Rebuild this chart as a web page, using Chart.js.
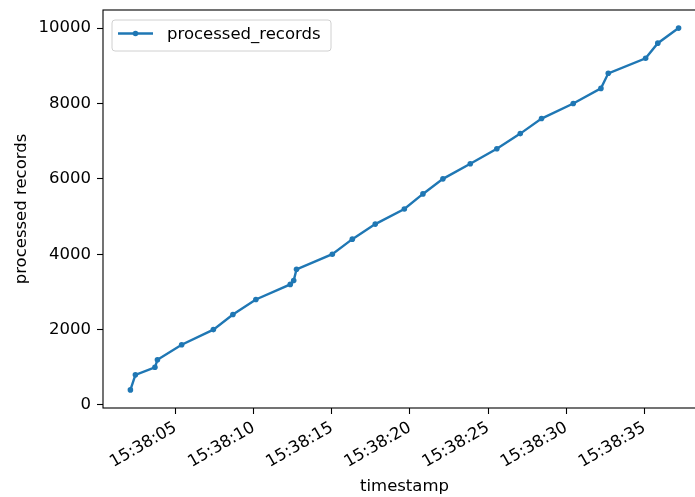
<!DOCTYPE html>
<html>
<head>
<meta charset="utf-8">
<script src="https://cdn.jsdelivr.net/npm/chart.js@4.4.0/dist/chart.umd.min.js"></script>
<style>
  html, body { margin: 0; padding: 0; background: #fff; overflow: hidden; }
  #wrap { width: 695px; height: 497px; overflow: hidden; }
</style>
</head>
<body>
<div id="wrap"><canvas id="grafica" width="712" height="497"></canvas></div>
<script>
// datos
const seriesName = "processed_records";
const timestamps = ["15:38:02.11", "15:38:02.43", "15:38:03.68", "15:38:03.84", "15:38:05.39",
  "15:38:07.42", "15:38:08.67", "15:38:10.14", "15:38:12.34", "15:38:12.56", "15:38:12.74",
  "15:38:15.03", "15:38:16.31", "15:38:17.78", "15:38:19.64", "15:38:20.83", "15:38:22.11",
  "15:38:23.86", "15:38:25.56", "15:38:27.06", "15:38:28.42", "15:38:30.45", "15:38:32.22",
  "15:38:32.69", "15:38:35.08", "15:38:35.86", "15:38:37.19"];
const processedRecords = [400, 800, 1000, 1200, 1600, 2000, 2400, 2800, 3200, 3300, 3600,
  4000, 4400, 4800, 5200, 5600, 6000, 6400, 6800, 7200, 7600, 8000, 8400, 8800, 9200, 9600, 10000];
const xTicks = [5, 10, 15, 20, 25, 30, 35]; // segundos despues de 15:38:00
const yTicks = [0, 2000, 4000, 6000, 8000, 10000];

// pasar "HH:MM:SS.ss" a segundos desde 15:38:00
const segundos = ts => {
  const p = ts.split(":");
  return (parseInt(p[0]) * 3600 + parseInt(p[1]) * 60 + parseFloat(p[2])) - (15 * 3600 + 38 * 60);
};
const xs = timestamps.map(segundos);
const puntos = xs.map((x, i) => ({ x: x, y: processedRecords[i] }));

// margenes del 5% como matplotlib
const xMin = Math.min(...xs), xMax = Math.max(...xs);
const yMin = Math.min(...processedRecords), yMax = Math.max(...processedRecords);
const mx = (xMax - xMin) * 0.05, my = (yMax - yMin) * 0.05;

const FUENTE = "'DejaVu Sans', sans-serif";
const AZUL = "#1f77b4";

// marco de los ejes y leyenda dentro del area
const marcoYLeyenda = {
  id: "marcoYLeyenda",
  afterDraw(chart) {
    const ctx = chart.ctx;
    const a = chart.chartArea;
    ctx.save();
    ctx.strokeStyle = "#000";
    ctx.lineWidth = 1.1;
    ctx.strokeRect(a.left, a.top, a.right - a.left, a.bottom - a.top);

    // leyenda
    const lx = a.left + 9, ly = a.top + 10, lw = 219, lh = 31;
    ctx.beginPath();
    ctx.roundRect(lx, ly, lw, lh, 3);
    ctx.fillStyle = "rgba(255,255,255,0.8)";
    ctx.fill();
    ctx.strokeStyle = "#d0d0d0";
    ctx.lineWidth = 1;
    ctx.stroke();

    const cy = ly + 13.5;
    ctx.strokeStyle = AZUL;
    ctx.lineWidth = 2.4;
    ctx.beginPath();
    ctx.moveTo(lx + 6, cy);
    ctx.lineTo(lx + 41, cy);
    ctx.stroke();
    ctx.fillStyle = AZUL;
    ctx.beginPath();
    ctx.arc(lx + 23.5, cy, 2.8, 0, Math.PI * 2);
    ctx.fill();

    ctx.fillStyle = "#000";
    ctx.font = "16.5px " + FUENTE;
    ctx.textBaseline = "middle";
    ctx.textAlign = "left";
    ctx.fillText(seriesName, lx + 55, cy + 1);
    ctx.restore();
  }
};

new Chart(document.querySelector("#grafica"), {
  type: "line",
  data: {
    datasets: [{
      label: seriesName,
      data: puntos,
      borderColor: AZUL,
      backgroundColor: AZUL,
      borderWidth: 2.4,
      pointRadius: 2.8,
      pointBorderWidth: 0,
      pointHoverRadius: 2.8,
      tension: 0
    }]
  },
  options: {
    responsive: false,
    animation: false,
    devicePixelRatio: 1,
    layout: { padding: { top: 10, right: 6, left: 0, bottom: 0 } },
    plugins: {
      legend: { display: false },
      tooltip: { enabled: false }
    },
    scales: {
      x: {
        type: "linear",
        min: xMin - mx,
        max: xMax + mx,
        afterBuildTicks: s => { s.ticks = xTicks.map(v => ({ value: v })); },
        afterFit: s => { s.height = 89; s.paddingLeft = 0; s.paddingRight = 0; },
        border: { display: false },
        grid: { drawOnChartArea: false, drawTicks: true, tickLength: 6, color: "#000", tickWidth: 1.1 },
        ticks: {
          minRotation: 30,
          maxRotation: 30,
          autoSkip: false,
          padding: 4,
          color: "#000",
          font: { family: FUENTE, size: 16.5 },
          callback: v => "15:38:" + String(Math.round(v)).padStart(2, "0")
        },
        title: {
          display: true,
          text: "timestamp",
          color: "#000",
          font: { family: FUENTE, size: 16.5 },
          padding: { top: 0, bottom: 0 }
        }
      },
      y: {
        min: yMin - my,
        max: yMax + my,
        afterBuildTicks: s => { s.ticks = yTicks.map(v => ({ value: v })); },
        afterFit: s => { s.width = 103; s.paddingTop = 0; s.paddingBottom = 0; },
        border: { display: false },
        grid: { drawOnChartArea: false, drawTicks: true, tickLength: 6, color: "#000", tickWidth: 1.1 },
        ticks: {
          padding: 6,
          color: "#000",
          font: { family: FUENTE, size: 16.5 },
          callback: v => String(v)
        },
        title: {
          display: true,
          text: "processed records",
          color: "#000",
          font: { family: FUENTE, size: 16.5 },
          padding: { top: 12, bottom: 0 }
        }
      }
    }
  },
  plugins: [marcoYLeyenda]
});
</script>
</body>
</html>
